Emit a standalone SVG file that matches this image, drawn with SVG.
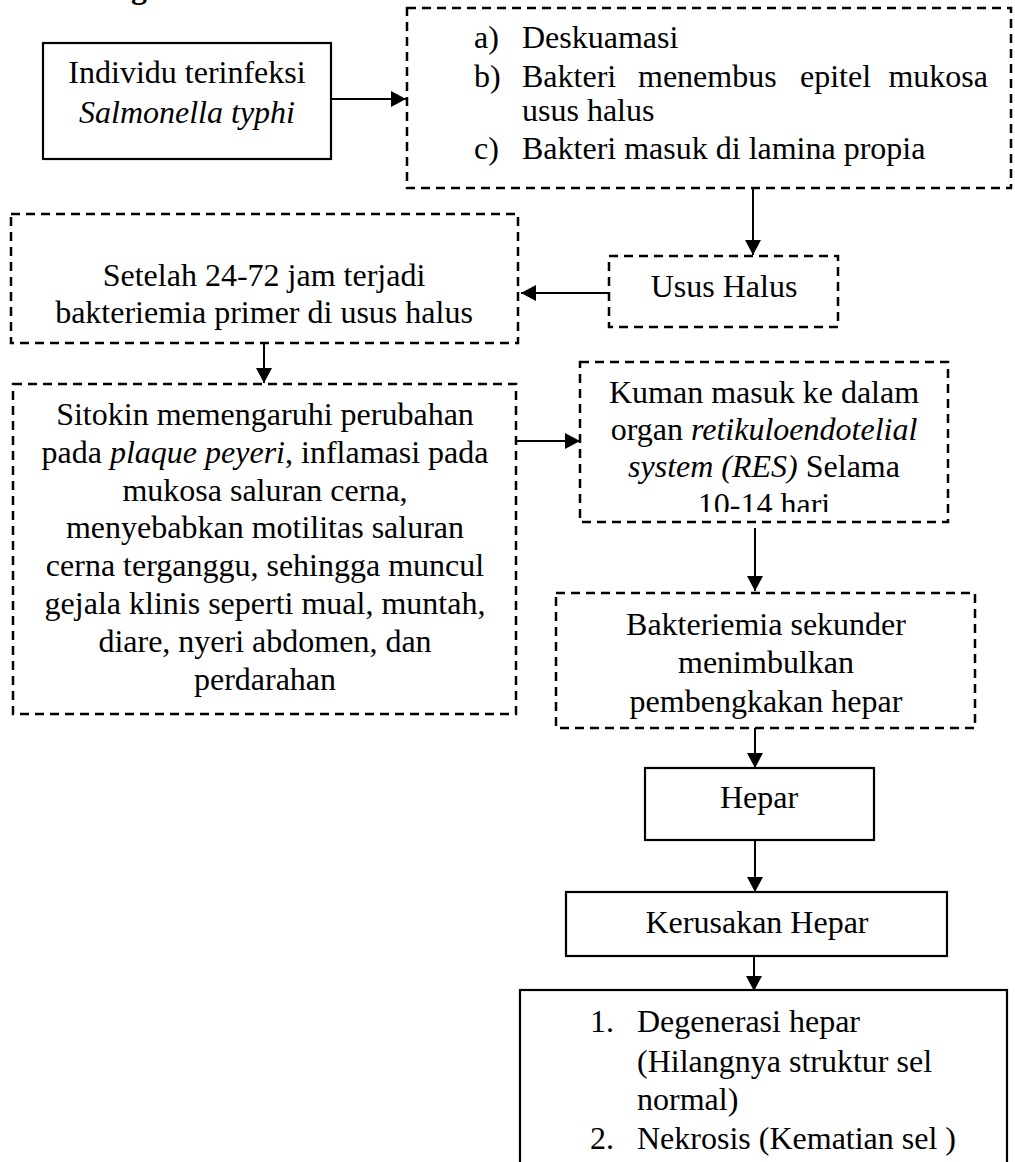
<svg xmlns="http://www.w3.org/2000/svg" width="1015" height="1162" viewBox="0 0 1015 1162">
  <style>
    text { font-family: "Liberation Serif", "Times New Roman", serif; font-size: 32px; fill: #000; }
    .c { text-anchor: middle; }
    .i { font-style: italic; }
    .solid { fill: #fff; stroke: #000; stroke-width: 2.2; }
    .dash { fill: #fff; stroke: #000; stroke-width: 2.5; stroke-dasharray: 9 6; }
    .conn { stroke: #000; stroke-width: 2; fill: none; }
  </style>
  <defs>
    <marker id="arr" markerUnits="userSpaceOnUse" markerWidth="16" markerHeight="18" refX="15" refY="8" orient="auto">
      <path d="M0,0 L15,8 L0,16 z" fill="#000"/>
    </marker>
    <clipPath id="clip5">
      <rect x="580" y="362" width="368" height="150"/>
    </clipPath>
  </defs>
  <rect width="1015" height="1162" fill="#fff"/>

  <text x="131" y="-2" style="font-weight:bold">g</text>

  <g id="connectors">
    <line class="conn" x1="331" y1="99" x2="406" y2="99" marker-end="url(#arr)"/>
    <line class="conn" x1="753" y1="188" x2="753" y2="255" marker-end="url(#arr)"/>
    <line class="conn" x1="609" y1="293" x2="521" y2="293" marker-end="url(#arr)"/>
    <line class="conn" x1="264" y1="343" x2="264" y2="383" marker-end="url(#arr)"/>
    <line class="conn" x1="517" y1="441" x2="580" y2="441" marker-end="url(#arr)"/>
    <line class="conn" x1="755" y1="528" x2="755" y2="591" marker-end="url(#arr)"/>
    <line class="conn" x1="755" y1="728" x2="755" y2="768" marker-end="url(#arr)"/>
    <line class="conn" x1="755" y1="840" x2="755" y2="892" marker-end="url(#arr)"/>
    <line class="conn" x1="754" y1="956" x2="754" y2="991" marker-end="url(#arr)"/>
  </g>

  <g id="node-individu">
    <rect class="solid" x="43" y="43" width="288" height="116"/>
    <text class="c" x="187" y="83">Individu terinfeksi</text>
    <text class="c i" x="187" y="123">Salmonella typhi</text>
  </g>

  <g id="node-deskuamasi">
    <rect class="dash" x="407" y="8" width="604" height="180"/>
    <text x="474" y="48">a)</text>
    <text x="522" y="48">Deskuamasi</text>
    <text x="474" y="87">b)</text>
    <text x="522" y="87">Bakteri</text>
    <text x="638" y="87">menembus</text>
    <text x="800" y="87">epitel</text>
    <text x="988" y="87" text-anchor="end">mukosa</text>
    <text x="522" y="121">usus halus</text>
    <text x="474" y="159">c)</text>
    <text x="522" y="159">Bakteri masuk di lamina propia</text>
  </g>

  <g id="node-usus">
    <rect class="dash" x="609" y="256" width="229" height="71"/>
    <text class="c" x="724" y="297">Usus Halus</text>
  </g>

  <g id="node-bakteriemia-primer">
    <rect class="dash" x="11" y="214" width="507" height="129"/>
    <text class="c" x="264" y="286">Setelah 24-72 jam terjadi</text>
    <text class="c" x="264" y="323">bakteriemia primer di usus halus</text>
  </g>

  <g id="node-sitokin">
    <rect class="dash" x="13" y="384" width="503" height="330"/>
    <text class="c" x="265" y="425">Sitokin memengaruhi perubahan</text>
    <text class="c" x="265" y="463">pada <tspan class="i">plaque peyeri</tspan>, inflamasi pada</text>
    <text class="c" x="265" y="501">mukosa saluran cerna,</text>
    <text class="c" x="265" y="538">menyebabkan motilitas saluran</text>
    <text class="c" x="265" y="576">cerna terganggu, sehingga muncul</text>
    <text class="c" x="265" y="614">gejala klinis seperti mual, muntah,</text>
    <text class="c" x="265" y="652">diare, nyeri abdomen, dan</text>
    <text class="c" x="265" y="690">perdarahan</text>
  </g>

  <g id="node-res">
    <rect class="dash" x="580" y="362" width="368" height="160"/>
    <g clip-path="url(#clip5)">
      <text class="c" x="764" y="403">Kuman masuk ke dalam</text>
      <text class="c" x="764" y="440">organ <tspan class="i">retikuloendotelial</tspan></text>
      <text class="c" x="764" y="477"><tspan class="i">system (RES)</tspan> Selama</text>
      <text class="c" x="764" y="515">10-14 hari</text>
    </g>
  </g>

  <g id="node-sekunder">
    <rect class="dash" x="556" y="593" width="419" height="135"/>
    <text class="c" x="766" y="635">Bakteriemia sekunder</text>
    <text class="c" x="766" y="673">menimbulkan</text>
    <text class="c" x="766" y="712">pembengkakan hepar</text>
  </g>

  <g id="node-hepar">
    <rect class="solid" x="645" y="768" width="229" height="72"/>
    <text class="c" x="759" y="808">Hepar</text>
  </g>

  <g id="node-kerusakan">
    <rect class="solid" x="566" y="892" width="381" height="64"/>
    <text class="c" x="757" y="933">Kerusakan Hepar</text>
  </g>

  <g id="node-akibat">
    <rect class="solid" x="520" y="990" width="487" height="200"/>
    <text x="590" y="1032">1.</text>
    <text x="637" y="1032">Degenerasi hepar</text>
    <text x="637" y="1072">(Hilangnya struktur sel</text>
    <text x="637" y="1110">normal)</text>
    <text x="590" y="1149">2.</text>
    <text x="637" y="1149">Nekrosis (Kematian sel )</text>
  </g>
</svg>
